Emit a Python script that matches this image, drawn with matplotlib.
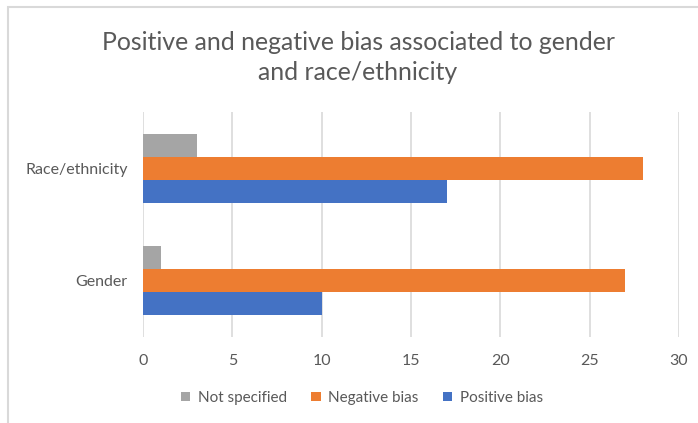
import matplotlib.pyplot as plt
import numpy as np
from matplotlib.patches import Rectangle

plt.rcParams['font.family'] = ['Lato', 'DejaVu Sans']

categories = ["Gender", "Race/ethnicity"]
not_specified = [1, 3]
negative_bias = [27, 28]
positive_bias = [10, 17]

grey = "#a5a5a5"
orange = "#ed7d31"
blue = "#4472c4"
text_col = "#595959"

fig = plt.figure(figsize=(6.98, 4.23), dpi=100)
ax = fig.add_axes([143 / 698, 1 - 337 / 423, (679 - 143) / 698, (337 - 112) / 423])

y = np.arange(len(categories))
h = 0.204
ax.barh(y + h, not_specified, height=h, color=grey, label="Not specified", zorder=3)
ax.barh(y, negative_bias, height=h, color=orange, label="Negative bias", zorder=3)
ax.barh(y - h, positive_bias, height=h, color=blue, label="Positive bias", zorder=3)

ax.set_xlim(0, 30)
ax.set_ylim(-0.5, 1.5)
ax.set_xticks(range(0, 31, 5))
ax.set_yticks(y)
ax.set_yticklabels(categories)
ax.xaxis.grid(True, color="#d9d9d9", linewidth=1.2, zorder=0)
for s in ax.spines.values():
    s.set_visible(False)
ax.tick_params(length=0, labelsize=11.5, labelcolor=text_col)
ax.tick_params(axis="x", pad=12)
ax.tick_params(axis="y", pad=11)

title_x = 358 / 698
fig.text(title_x, 1 - 42 / 423, "Positive and negative bias associated to gender",
         ha="center", va="center", fontsize=17.9, color=text_col)
fig.text(title_x, 1 - 73 / 423, "and race/ethnicity",
         ha="center", va="center", fontsize=17.9, color=text_col)

ax.legend(loc="center", bbox_to_anchor=(362 / 698, 1 - 398 / 423),
          bbox_transform=fig.transFigure, ncol=3, frameon=False,
          fontsize=11, labelcolor=text_col, handlelength=0.6, handleheight=0.6,
          handletextpad=0.5, columnspacing=1.6)

# chart frame
fig.patches.append(Rectangle((8 / 698, -0.05), 1.2, 1.05 - 7.5 / 423,
                             transform=fig.transFigure, fill=False,
                             edgecolor="#d9d9d9", linewidth=1.5))

fig.savefig("out.png", dpi=100)
